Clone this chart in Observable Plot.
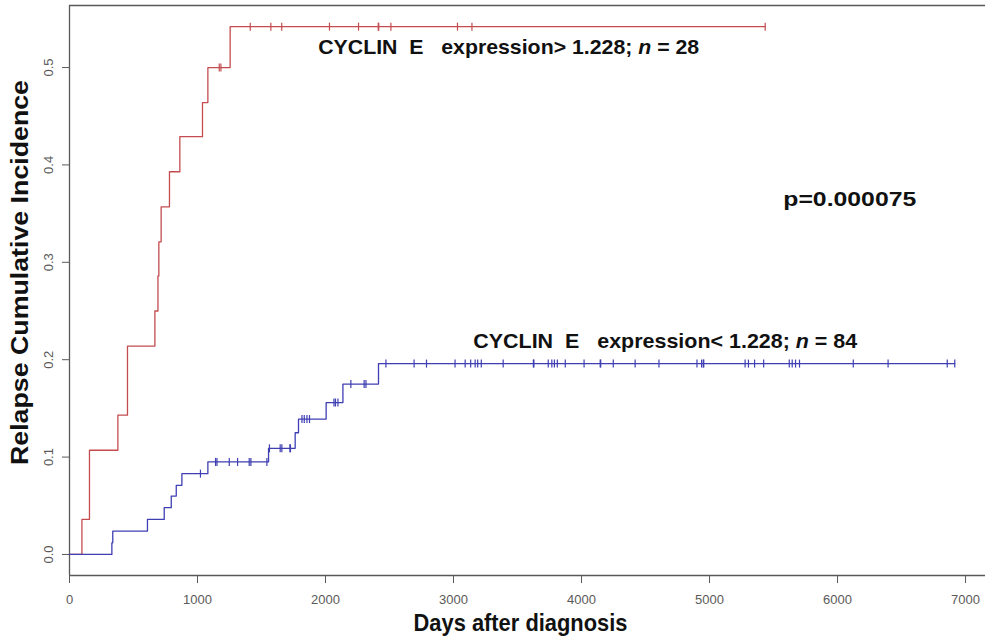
<!DOCTYPE html>
<html>
<head>
<meta charset="utf-8">
<script src="https://cdn.jsdelivr.net/npm/d3@7"></script>
<script src="https://cdn.jsdelivr.net/npm/@observablehq/plot@0.6"></script>
<style>
  body { margin: 0; background: #fff; }
  #chart svg { display: block; }
</style>
</head>
<body>
<div id="chart"></div>
<script>
// ---- Data ----
// High CYCLIN E group (n = 28): step times (days) and cumulative incidence
const highTimes  = [0, 97, 156, 378, 453, 667, 691, 698, 716, 781, 862, 1039, 1081, 1255, 5435];
const highValues = [0, 0.036, 0.107, 0.143, 0.214, 0.25, 0.286, 0.321, 0.357, 0.393, 0.429, 0.464, 0.5, 0.542, 0.542];
const highCensor = [1170, 1183, 1412, 1573, 1658, 2031, 2258, 2412, 2416, 2511, 3031, 3144, 5435];

// Low CYCLIN E group (n = 84)
const lowTimes  = [0, 331, 338, 609, 740, 795, 834, 878, 1081, 1555, 1763, 1789, 2005, 2136, 2414, 6916];
const lowValues = [0, 0.012, 0.024, 0.036, 0.048, 0.06, 0.071, 0.083, 0.095, 0.109, 0.125, 0.139, 0.156, 0.175, 0.196, 0.196];
const lowCensor = [1023, 1141, 1152, 1248, 1313, 1404, 1417, 1542, 1562, 1646, 1659, 1722, 1726,
  1816, 1834, 1855, 1875, 2066, 2078, 2097, 2198, 2302, 2316, 2472,
  2692, 2789, 3012, 3091, 3134, 3169, 3189, 3217, 3388, 3624, 3628, 3740, 3768, 3788, 3811, 3873,
  4020, 4146, 4150, 4248, 4419, 4605, 4902, 4938, 4951, 4955, 5278, 5304, 5352, 5423,
  5623, 5646, 5672, 5703, 6123, 6395, 6857, 6916];

// Axis ticks and domains
const xTicks = [0, 1000, 2000, 3000, 4000, 5000, 6000, 7000];
const yTicks = [0, 0.1, 0.2, 0.3, 0.4, 0.5];
const xDomain = [0, 7156];
const yDomain = [-0.0216, 0.5637];

// Texts
const groupLabels = [
  {text: "CYCLIN  E   expression> 1.228; n = 28", x: 1943, y: 0.5205},
  {text: "CYCLIN  E   expression< 1.228; n = 84", x: 3154, y: 0.2187}
];
const pLabel = {text: "p=0.000075", x: 5576, y: 0.3645};
const xTitle = "Days after diagnosis";
const yTitle = "Relapse Cumulative Incidence";

// ---- Styles ----
const RED = "#c44c4f";
const BLUE = "#3f3fb3";
const AXIS = "#5a5a5a";
const FONT = "'Liberation Sans', Arial, Helvetica, sans-serif";

const stepAt = (times, values, t) => values[Math.max(0, d3.bisectRight(times, t) - 1)];
const toPoints = (times, values) => times.map((t, i) => ({t, v: values[i]}));
const highLine = toPoints(highTimes, highValues);
const lowLine = toPoints(lowTimes, lowValues);
const highMarks = highCensor.map(t => ({t, v: stepAt(highTimes, highValues, t)}));
const lowMarks = lowCensor.map(t => ({t, v: stepAt(lowTimes, lowValues, t)}));

// vertical-bar symbol for censoring ticks
const bar = {draw(ctx, size) { const h = Math.sqrt(size / Math.PI); ctx.moveTo(0, -h); ctx.lineTo(0, h); }};

const plot = Plot.plot({
  width: 985,
  height: 642,
  marginLeft: 69,
  marginRight: 0,
  marginTop: 5,
  marginBottom: 67,
  style: {fontFamily: FONT, background: "#fff"},
  x: {domain: xDomain},
  y: {domain: yDomain},
  marks: [
    Plot.ruleY([yDomain[1]], {stroke: AXIS, strokeWidth: 1.3}),
    Plot.ruleY([yDomain[0]], {stroke: AXIS, strokeWidth: 1.3}),
    Plot.ruleX([xDomain[0]], {stroke: AXIS, strokeWidth: 1.3}),
    Plot.axisX({ticks: xTicks, tickSize: 8, tickPadding: 11, tickFormat: d => String(d), fontSize: 13, color: AXIS, label: null}),
    Plot.axisY({ticks: yTicks, tickSize: 7, tickPadding: 10, tickRotate: -90, tickFormat: d3.format(".1f"), fontSize: 13, color: AXIS, label: null}),
    Plot.line(highLine, {x: "t", y: "v", curve: "step-after", stroke: RED, strokeWidth: 1.3}),
    Plot.line(lowLine, {x: "t", y: "v", curve: "step-after", stroke: BLUE, strokeWidth: 1.3}),
    Plot.dot(highMarks, {x: "t", y: "v", symbol: bar, r: 4, stroke: RED, fill: "none", strokeWidth: 1.2}),
    Plot.dot(lowMarks, {x: "t", y: "v", symbol: bar, r: 4, stroke: BLUE, fill: "none", strokeWidth: 1.2}),
    Plot.text(groupLabels, {x: "x", y: "y", text: "text", textAnchor: "start", fontWeight: "bold", fontSize: 21, fill: "#111"}),
    Plot.text([pLabel], {x: "x", y: "y", text: "text", textAnchor: "start", fontWeight: "bold", fontSize: 20, fill: "#111"}),
    Plot.text([xTitle], {frameAnchor: "bottom", textAnchor: "middle", dy: 55, dx: -7, fontWeight: "bold", fontSize: 24, fill: "#111"}),
    Plot.text([yTitle], {frameAnchor: "left", textAnchor: "middle", rotate: -90, dx: -49, dy: -18, fontWeight: "bold", fontSize: 23, fill: "#111"})
  ]
});

// Post-process: italic "n", preserve spaces, stretch to reference widths
const textWidths = new Map([
  [groupLabels[0].text, 381],
  [groupLabels[1].text, 384],
  [pLabel.text, 133],
  [xTitle, 214],
  [yTitle, 385]
]);
plot.querySelectorAll("text").forEach(el => {
  const s = el.textContent;
  if (!textWidths.has(s)) return;
  el.style.whiteSpace = "pre";
  const m = s.match(/^(.*; )n( = .*)$/);
  if (m) {
    el.textContent = "";
    const ns = "http://www.w3.org/2000/svg";
    const a = document.createElementNS(ns, "tspan"); a.textContent = m[1];
    const b = document.createElementNS(ns, "tspan"); b.textContent = "n"; b.setAttribute("font-style", "italic");
    const c = document.createElementNS(ns, "tspan"); c.textContent = m[2];
    el.append(a, b, c);
  }
  el.setAttribute("textLength", textWidths.get(s));
  el.setAttribute("lengthAdjust", "spacingAndGlyphs");
});

document.getElementById("chart").append(plot);
</script>
</body>
</html>
